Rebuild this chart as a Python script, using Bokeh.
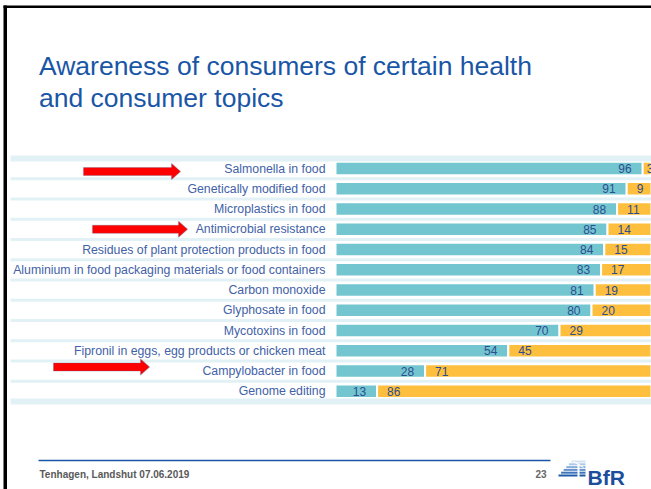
from bokeh.plotting import figure
from bokeh.models import ColumnDataSource, Label, PolyAnnotation, Range1d
from bokeh.embed import file_html
from bokeh.resources import INLINE
from bokeh.core.properties import value

# ---------------- data ----------------
categories = [
    "Salmonella in food",
    "Genetically modified food",
    "Microplastics in food",
    "Antimicrobial resistance",
    "Residues of plant protection products in food",
    "Aluminium in food packaging materials or food containers",
    "Carbon monoxide",
    "Glyphosate in food",
    "Mycotoxins in food",
    "Fipronil in eggs, egg products or chicken meat",
    "Campylobacter in food",
    "Genome editing",
]
aware = [96, 91, 88, 85, 84, 83, 81, 80, 70, 54, 28, 13]
not_aware = [3, 9, 11, 14, 15, 17, 19, 20, 29, 45, 71, 86]
highlighted = ["Salmonella in food", "Antimicrobial resistance", "Campylobacter in food"]

title_lines = ["Awareness of consumers of certain health", "and consumer topics"]
footer_text = "Tenhagen, Landshut 07.06.2019"
page_number = "23"
logo_text = "BfR"

# ---------------- styles / layout ----------------
W, H = 651, 489
FONT = "Liberation Sans"
TEAL = "#73c6cf"
ORANGE = "#fdbf3d"
STRIPE = "#e2f1f5"
TITLE_BLUE = "#1a56a6"
LABEL_BLUE = "#4262a6"
VALUE_BLUE = "#2e4d8f"
DARK_BLUE = "#1b4e9b"

n = len(categories)
ZERO_PX, KX = 335, 3.2          # bar origin (px) and px per percent
ROW0_PX, KY = 168, 20.25        # first row centre (px) and row pitch (px)
X0, X1 = -ZERO_PX / KX, (W - ZERO_PX) / KX
Y1 = (n - 1) + ROW0_PX / KY
Y0 = Y1 - H / KY


def X(px):
    return X0 + px / KX


def Y(py):
    return Y1 - py / KY


p = figure(width=W, height=H, x_range=Range1d(X0, X1), y_range=Range1d(Y0, Y1),
           output_backend="svg", toolbar_location=None,
           x_axis_location=None, y_axis_location=None,
           min_border_left=0, min_border_right=0, min_border_top=0, min_border_bottom=0)
p.title.visible = False
p.grid.grid_line_color = None
p.outline_line_color = None
p.background_fill_color = "white"
p.border_fill_color = "white"

ys = [n - 1 - i for i in range(n)]
src = ColumnDataSource(dict(
    cat=categories, y=ys, aware=aware, not_aware=not_aware,
    total=[a + b for a, b in zip(aware, not_aware)],
    a_lbl=[str(a) for a in aware], b_lbl=[str(b) for b in not_aware],
    b_off=[10 if b >= 5 else 4 for b in not_aware],
))

# separator stripes (drawn from x=10 px to the right edge)
for b in range(-1, n):
    loc = b + 0.5
    w = 6 if b in (-1, n - 1) else 3
    p.add_layout(PolyAnnotation(xs=[X(10), X(W), X(W), X(10)],
                                ys=[loc + w / 2 / KY, loc + w / 2 / KY, loc - w / 2 / KY, loc - w / 2 / KY],
                                fill_color=STRIPE, fill_alpha=1, line_color=None))

# bars
p.hbar(y="y", left=0, right="aware", height=0.66, fill_color=TEAL,
       line_color="white", line_width=2, source=src)
p.hbar(y="y", left="aware", right="total", height=0.66, fill_color=ORANGE,
       line_color="white", line_width=2, source=src)

# category labels
p.text(x=0, y="y", text="cat", x_offset=-10, text_align="right", text_baseline="middle",
       text_font=value(FONT), text_font_size="12.3px", text_color=LABEL_BLUE, source=src)
# value labels
p.text(x="aware", y="y", text="a_lbl", x_offset=-11, text_align="right", text_baseline="middle",
       text_font=value(FONT), text_font_size="12px", text_color=VALUE_BLUE, source=src)
p.text(x="aware", y="y", text="b_lbl", x_offset="b_off", text_align="left", text_baseline="middle",
       text_font=value(FONT), text_font_size="12px", text_color=VALUE_BLUE, source=src)

# red arrows pointing at highlighted topics (tail px, tip px, vertical shift px)
arrow_geom = {"Salmonella in food": (83, 180, 3),
              "Antimicrobial resistance": (92, 187, 0),
              "Campylobacter in food": (53, 149, -4)}
for cat in highlighted:
    tail, tip, dy = arrow_geom[cat]
    yc = ys[categories.index(cat)] - dy / KY
    sh, hh, hl = 4 / KY, 8 / KY, 9
    xs = [X(tail), X(tip - hl), X(tip - hl), X(tip), X(tip - hl), X(tip - hl), X(tail)]
    yv = [yc + sh, yc + sh, yc + hh, yc, yc - hh, yc - sh, yc - sh]
    p.add_layout(PolyAnnotation(xs=xs, ys=yv, fill_color="#ff0000", fill_alpha=1,
                                line_color="#4f6080", line_width=1.2))

# title
p.add_layout(Label(x=X(38.5), y=Y(65), text=title_lines[0], text_font=FONT,
                   text_font_size="26.5px", text_color=TITLE_BLUE, text_baseline="alphabetic"))
p.add_layout(Label(x=X(38.5), y=Y(97.5), text=title_lines[1], text_font=FONT,
                   text_font_size="26.5px", text_color=TITLE_BLUE, text_baseline="alphabetic"))

# slide border
p.add_layout(PolyAnnotation(xs=[X(3), X(6.5), X(6.5), X(3)], ys=[Y(5), Y(5), Y(H), Y(H)],
                            fill_color="black", fill_alpha=1, line_color=None))
p.add_layout(PolyAnnotation(xs=[X(3), X(W), X(W), X(3)], ys=[Y(5), Y(5), Y(7.5), Y(7.5)],
                            fill_color="black", fill_alpha=1, line_color=None))

# footer
p.add_layout(PolyAnnotation(xs=[X(38), X(550), X(550), X(38)],
                            ys=[Y(459.3), Y(459.3), Y(460.8), Y(460.8)],
                            fill_color=TITLE_BLUE, fill_alpha=1, line_color=None))
p.add_layout(Label(x=X(39), y=Y(473.5), text=footer_text, text_font=FONT, text_font_style="bold",
                   text_font_size="10px", text_color="#595959", text_baseline="alphabetic"))
p.add_layout(Label(x=X(535), y=Y(473.5), text=page_number, text_font=FONT, text_font_style="bold",
                   text_font_size="10px", text_color="#666666", text_baseline="alphabetic"))

# logo: striped flag + BfR
flag_cols = ["#d3e0f1", "#b0c8e8", "#8aaedc", "#6592cd", "#3d74bc", "#1f5aa8"]
for j, c in enumerate(flag_cols):
    y_top = 460 + j * 2.8
    x_left = 571 - j * 2.6
    p.add_layout(PolyAnnotation(xs=[X(x_left), X(585), X(585), X(x_left)],
                                ys=[Y(y_top), Y(y_top), Y(y_top + 2), Y(y_top + 2)],
                                fill_color=c, fill_alpha=1, line_color=None))
p.add_layout(PolyAnnotation(xs=[X(577), X(579), X(579), X(577)], ys=[Y(463), Y(463), Y(477), Y(477)],
                            fill_color="white", fill_alpha=1, line_color=None))
p.add_layout(PolyAnnotation(xs=[X(572), X(574), X(584), X(582)], ys=[Y(461), Y(461), Y(467), Y(467)],
                            fill_color="white", fill_alpha=1, line_color=None))
p.add_layout(Label(x=X(587), y=Y(477), text=logo_text, text_font=FONT, text_font_style="bold",
                   text_font_size="21px", text_color=DARK_BLUE, text_baseline="alphabetic"))

open("out.html", "w").write(file_html(p, INLINE))
